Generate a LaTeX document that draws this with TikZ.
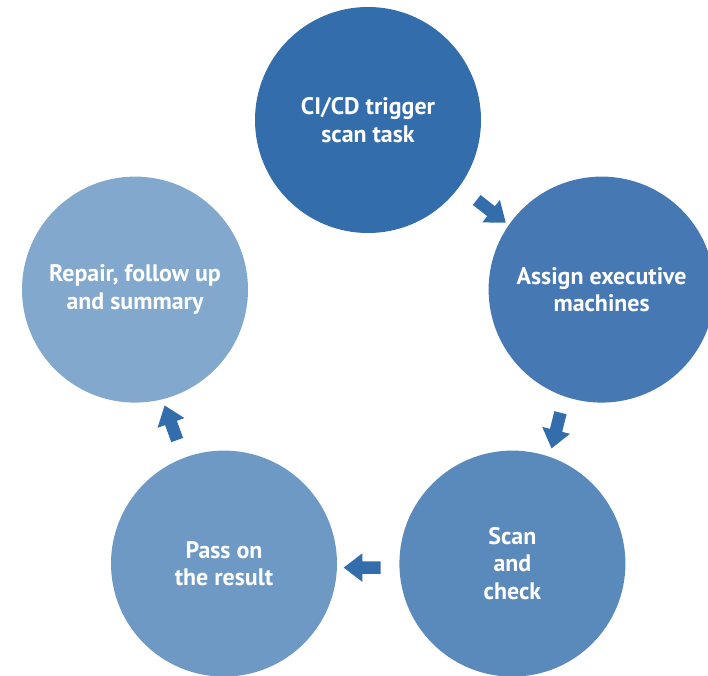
\documentclass[tikz,border=0pt]{standalone}
\usepackage{fontspec}
\setmainfont{PT Sans}
\usepackage{tikz}
\usetikzlibrary{shapes.geometric,shapes.arrows,calc}
\usepackage{xcolor}
\definecolor{stepone}{RGB}{51,109,171}
\definecolor{steptwo}{RGB}{70,121,179}
\definecolor{stepthree}{RGB}{90,137,187}
\definecolor{stepfour}{RGB}{110,153,196}
\definecolor{stepfive}{RGB}{130,168,205}
\tikzstyle{stepcircle} = [circle, minimum size=5.65cm, inner sep=0pt, text=white, align=center, font=\fontsize{17}{19.5}\selectfont\bfseries]
\tikzstyle{flowarrow} = [single arrow, fill=stepone, draw=none, minimum height=0.92cm, inner sep=0.15cm, single arrow head extend=0.2cm, single arrow tip angle=75]

\begin{document}
\begin{tikzpicture}
\clip (0,0) rectangle (17.7,-16.9);
% Five steps of the cycle
\node[stepcircle, fill=stepone] (trigger) at (9.2,-3.0) {CI/CD trigger\\scan task};
\node[stepcircle, fill=steptwo] (assign) at (15.04,-7.24) {Assign executive\\machines};
\node[stepcircle, fill=stepthree] (scan) at (12.81,-14.09) {Scan\\and\\check};
\node[stepcircle, fill=stepfour] (pass) at (5.6,-14.09) {Pass on\\the result};
\node[stepcircle, fill=stepfive] (repair) at (3.375,-7.24) {Repair, follow up\\and summary};

% Arrows between the steps
\node[flowarrow, rotate=-38] (a1) at ($(trigger)!0.5!(assign)+(0.08,-0.1)$) {};
\node[flowarrow, rotate=-104] (a2) at ($(assign)!0.5!(scan)+(0,0)$) {};
\node[flowarrow, rotate=180] (a3) at ($(scan)!0.5!(pass)+(-0.05,-0.1)$) {};
\node[flowarrow, rotate=110] (a4) at ($(pass)!0.5!(repair)+(-0.18,0)$) {};
\end{tikzpicture}
\end{document}
